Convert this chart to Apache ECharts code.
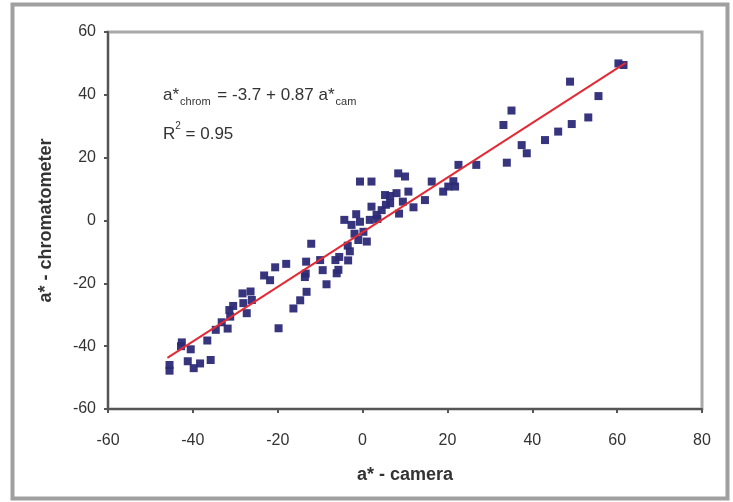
<!DOCTYPE html>
<html>
<head>
<meta charset="utf-8">
<script src="https://cdn.jsdelivr.net/npm/echarts@6/dist/echarts.min.js"></script>
<style>
  html, body { margin: 0; padding: 0; background: #fff; }
  #chart { width: 733px; height: 502px; }
</style>
</head>
<body>
<div id="chart"></div>
<script>
// a* camera vs a* chromatometer
const camX = [
  -45.5, -45.5, -42.6, -40.5, -41.2, -39.8, -38.3, -35.8, -36.6, -34.6,
  -31.8, -33.2, -31.2, -30.5, -31.4, -28.1, -27.3, -28.3, -26.4, -26.1,
  -23.2, -21.8, -20.6, -18.0, -19.8, -16.3, -14.7, -13.2, -13.4, -13.3,
  -12.1, -13.6, -10.0, -9.4, -8.5, -6.1, -6.4, -5.5, -5.7, -3.4,
  -3.0, -4.3, -2.6, -0.6, -0.6, 2.1, 1.7, 3.3, 0.2, -1.0,
  1.0, -1.9, 2.1, 4.5, 5.3, 8.0, 8.4, 10.0, 10.8, 12.0,
  8.6, 6.5, 14.7, 16.3, 19.0, 20.2, 21.8, 21.4, 22.6, 26.8,
  33.2, 35.1, 34.0, 37.5, 38.7, 43.0, 46.1, 49.3, 53.2, 48.9,
  55.6, 60.3, 61.5, -3.5, -1.5, 3.5, 5.5, 6.5, 9.5, -42.8
];
const chromY = [
  -46.0, -47.8, -38.8, -41.0, -44.8, -47.0, -45.5, -44.4, -38.2, -34.8,
  -34.4, -32.4, -30.6, -27.2, -28.5, -26.3, -29.5, -23.2, -22.6, -25.3,
  -17.5, -19.0, -14.9, -13.8, -34.3, -28.0, -25.4, -22.7, -16.9, -13.1,
  -7.4, -18.0, -12.6, -15.8, -20.3, -16.8, -12.6, -11.6, -15.7, -12.7,
  -9.8, 0.2, -1.4, -0.4, 12.4, 12.4, 0.2, 1.8, -3.6, -6.2,
  -6.7, -4.2, 4.4, 3.3, 8.1, 8.7, 15.0, 14.0, 9.2, 4.2,
  2.2, 5.5, 6.5, 12.4, 9.2, 10.8, 10.8, 12.5, 17.7, 17.7,
  30.4, 35.0, 18.4, 24.0, 21.4, 25.6, 28.3, 30.7, 32.8, 44.2,
  39.6, 50.0, 49.5, -8.0, 2.0, 0.5, 5.0, 7.8, 6.0, -40.0
];
// fitted line end points
const trendX = [-46, 62];
const trendY = [-43.7, 50.2];

const xTicks = { min: -60, max: 80, interval: 20 };
const yTicks = { min: -60, max: 60, interval: 20 };

const font = 'Liberation Sans, Arial, sans-serif';
const chart = echarts.init(document.getElementById('chart'), null, { renderer: 'canvas' });

const option = {
  backgroundColor: '#fff',
  animation: false,
  grid: {
    left: 108, right: 31, top: 32, bottom: 93,
    show: true, borderColor: '#a8a8a8', borderWidth: 3, backgroundColor: '#fff'
  },
  xAxis: {
    type: 'value',
    min: xTicks.min, max: xTicks.max, interval: xTicks.interval,
    name: 'a* - camera',
    nameLocation: 'middle',
    nameGap: 57,
    nameTextStyle: { color: '#333', fontSize: 18, fontWeight: 'bold', fontFamily: font },
    axisLine: { onZero: false, lineStyle: { color: '#555', width: 2 } },
    axisTick: { length: 4, lineStyle: { color: '#555', width: 2 } },
    axisLabel: { color: '#333', fontSize: 16, margin: 24, fontFamily: font },
    splitLine: { show: false }
  },
  yAxis: {
    type: 'value',
    min: yTicks.min, max: yTicks.max, interval: yTicks.interval,
    name: 'a* - chromatometer',
    nameLocation: 'middle',
    nameGap: 53,
    nameTextStyle: { color: '#333', fontSize: 18, fontWeight: 'bold', fontFamily: font },
    axisLine: { onZero: false, lineStyle: { color: '#555', width: 2 } },
    axisTick: { length: 4, lineStyle: { color: '#555', width: 2 } },
    axisLabel: { color: '#333', fontSize: 16, margin: 12, fontFamily: font },
    splitLine: { show: false }
  },
  graphic: [
    {
      type: 'rect', left: 10, top: 2, z: -10, silent: true,
      shape: { width: 715, height: 494 },
      style: { fill: 'none', stroke: '#a0a0a0', lineWidth: 4 }
    },
    {
      type: 'text', left: 163, top: 87, z: 10,
      style: {
        text: '{a|a*}{s|chrom}{a| = -3.7 + 0.87 a*}{s|cam}',
        fill: '#333',
        rich: {
          a: { fontSize: 17, fontFamily: font, lineHeight: 22, verticalAlign: 'bottom' },
          s: { fontSize: 11, fontFamily: font, lineHeight: 22, verticalAlign: 'bottom', padding: [0, 2, -3, 1] }
        }
      }
    },
    {
      type: 'text', left: 163, top: 121, z: 10,
      style: {
        text: '{a|R}{p|2}{a| = 0.95}',
        fill: '#333',
        rich: {
          a: { fontSize: 17, fontFamily: font, lineHeight: 22, verticalAlign: 'bottom' },
          p: { fontSize: 10, fontFamily: font, lineHeight: 22, verticalAlign: 'top' }
        }
      }
    }
  ],
  series: [
    {
      type: 'scatter',
      symbol: 'rect',
      symbolSize: 8,
      itemStyle: { color: '#2c2a76', opacity: 0.95 },
      data: camX.map((x, i) => [x, chromY[i]]),
      z: 2
    },
    {
      type: 'line',
      symbol: 'none',
      lineStyle: { color: '#e32a35', width: 2 },
      data: trendX.map((x, i) => [x, trendY[i]]),
      z: 3
    }
  ]
};
chart.setOption(option);
</script>
</body>
</html>
